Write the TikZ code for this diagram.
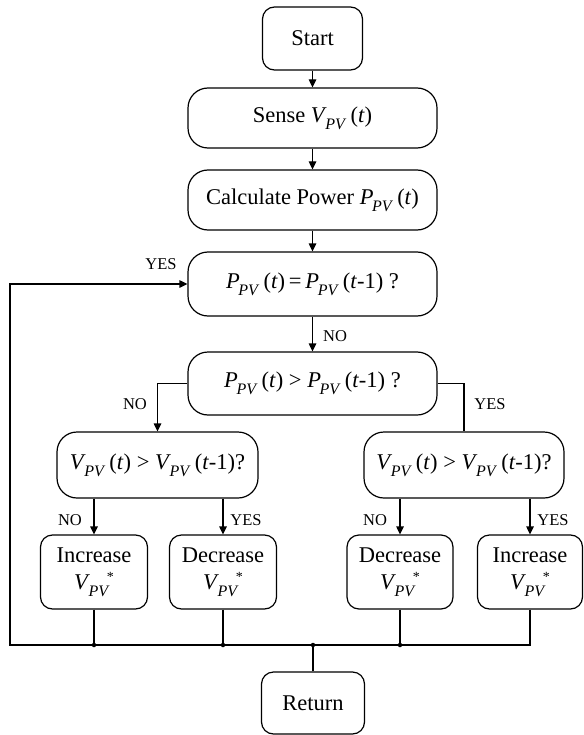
\documentclass[tikz,border=0pt]{standalone}
\usepackage{fontspec}
\setmainfont{Liberation Serif}
\usetikzlibrary{arrows.meta}
\newcommand{\pvsub}{\raisebox{-0.3em}{\fontsize{16}{16}\selectfont\itshape PV}}
\newcommand{\qv}[1]{\textit{#1}\kern-0.06em\pvsub\kern0.08em}
\newcommand{\qvs}{\textit{V}\kern-0.06em\pvsub\kern-0.05em\raisebox{0.35em}{\fontsize{14}{14}\selectfont *}}
\begin{document}
\begin{tikzpicture}[x=1pt,y=-1pt,
  box/.style={draw,line width=1.2pt,rounded corners=20pt,font=\fontsize{22.5}{25}\selectfont,inner sep=0pt,align=center},
  sbox/.style={box,rounded corners=12pt},
  lbl/.style={font=\fontsize{16.5}{19}\selectfont,inner sep=0pt},
  arr/.style={-{Triangle[length=8pt,width=7.5pt]},line width=1.2pt},
  ln/.style={line width=1.2pt},
  dot/.style={circle,fill,inner sep=0pt,minimum size=4.5pt}]
\useasboundingbox (0,0) rectangle (583,735);

\node[sbox,minimum width=100pt,minimum height=63pt] (start) at (312.5,38.5) {Start};
\node[box,minimum width=249pt,minimum height=60pt] (sense) at (312.5,118) {Sense \qv{V}\,(\textit{t})};
\node[box,minimum width=249pt,minimum height=60pt] (calc) at (312.5,200) {Calculate Power \qv{P}\,(\textit{t})};
\node[box,minimum width=249pt,minimum height=64pt] (eq) at (312.5,284) {\qv{P}\,(\textit{t})\,=\,\qv{P}\,(\textit{t}-1) ?};
\node[box,minimum width=249pt,minimum height=63pt] (gt) at (312.5,383.5) {\qv{P}\,(\textit{t}) > \qv{P}\,(\textit{t}-1) ?};
\node[box,minimum width=201pt,minimum height=66pt] (vl) at (157.5,465) {\qv{V}\,(\textit{t}) > \qv{V}\,(\textit{t}-1)?};
\node[box,minimum width=200pt,minimum height=66pt] (vr) at (464,465) {\qv{V}\,(\textit{t}) > \qv{V}\,(\textit{t}-1)?};
\node[sbox,minimum width=107pt,minimum height=74pt] (inc1) at (94,572) {Increase\\[2pt]\qvs};
\node[sbox,minimum width=107pt,minimum height=74pt] (dec1) at (223,572) {Decrease\\[2pt]\qvs};
\node[sbox,minimum width=106pt,minimum height=74pt] (dec2) at (400,572) {Decrease\\[2pt]\qvs};
\node[sbox,minimum width=105pt,minimum height=74pt] (inc2) at (530,572) {Increase\\[2pt]\qvs};
\node[sbox,minimum width=103pt,minimum height=62pt] (ret) at (313,703) {Return};

\coordinate (b0) at (10,645);

\draw[arr] (start) -- (sense);
\draw[arr] (sense) -- (calc);
\draw[arr] (calc) -- (eq);
\draw[arr] (eq) -- (gt);
\draw[arr] (gt.west) -| (vl.north);
\draw[ln] (gt.east) -| (vr.north);
\draw[arr] (inc1.north |- vl.south) -- (inc1.north);
\draw[arr] (dec1.north |- vl.south) -- (dec1.north);
\draw[arr] (dec2.north |- vr.south) -- (dec2.north);
\draw[arr] (inc2.north |- vr.south) -- (inc2.north);

\draw[arr] (inc2.south) |- (b0) |- (eq.west);
\draw[ln] (inc1.south) -- (inc1.south |- b0) coordinate (j1);
\draw[ln] (dec1.south) -- (dec1.south |- b0) coordinate (j2);
\draw[ln] (dec2.south) -- (dec2.south |- b0) coordinate (j3);
\draw[ln] (ret.north) -- (ret.north |- b0) coordinate (j4);
\foreach \j in {j1,j2,j3,j4} \node[dot] at (\j) {};

\node[lbl] (l1) at (161,264) {YES};
\node[lbl] (l2) at (335,336) {NO};
\node[lbl] (l3) at (135,404) {NO};
\node[lbl] (l4) at (490,404) {YES};
\node[lbl] (l5) at (70,520) {NO};
\node[lbl] (l6) at (246,520) {YES};
\node[lbl] (l7) at (375,520) {NO};
\node[lbl] (l8) at (553,520) {YES};
\end{tikzpicture}
\end{document}
